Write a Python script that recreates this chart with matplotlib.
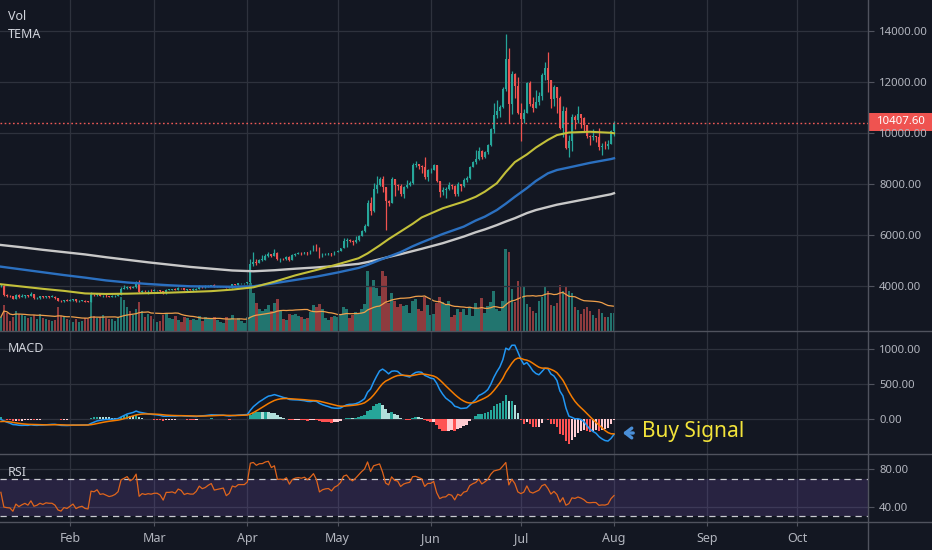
import numpy as np
import pandas as pd
import matplotlib
matplotlib.use("Agg")
import matplotlib.pyplot as plt
import matplotlib.dates as mdates
from matplotlib.lines import Line2D
from matplotlib.patches import Rectangle
from matplotlib.ticker import FuncFormatter

plt.rcParams['font.family'] = ['Noto Sans', 'DejaVu Sans']

# BTC/USD daily, 2019-01-09 .. 2019-08-01 (open = previous close)
warmup_close = [4040, 3770, 3820, 3600, 3880, 3730, 3860, 3700, 3820, 3890, 3780, 3810, 3790, 4060, 4000, 4010]

close_jan = [4030, 3650, 3630, 3620, 3510, 3660, 3580, 3620, 3650, 3600, 3690, 3540, 3560, 3600, 3570, 3600, 3590, 3590, 3550, 3440, 3410, 3460, 3440]
high_jan = [4100, 4060, 3690, 3650, 3630, 3710, 3680, 3680, 3660, 3660, 3760, 3710, 3590, 3630, 3620, 3610, 3610, 3670, 3600, 3550, 3450, 3480, 3490]
low_jan = [3990, 3600, 3570, 3580, 3490, 3500, 3560, 3570, 3560, 3580, 3600, 3520, 3520, 3500, 3550, 3550, 3550, 3570, 3510, 3410, 3390, 3400, 3430]

close_feb = [3470, 3500, 3410, 3430, 3440, 3400, 3390, 3660, 3650, 3690, 3620, 3630, 3610, 3590, 3600, 3620, 3660, 3900, 3940, 3990, 3940, 3990, 4140, 3760, 3830, 3810, 3830, 3820]
high_feb = [3490, 3510, 3510, 3450, 3460, 3450, 3410, 3780, 3680, 3700, 3690, 3660, 3680, 3630, 3650, 3650, 3700, 3960, 4070, 4010, 4000, 4010, 4200, 4230, 3870, 3840, 3850, 3910]
low_feb = [3420, 3440, 3400, 3400, 3410, 3380, 3370, 3380, 3630, 3610, 3600, 3580, 3590, 3570, 3580, 3590, 3600, 3650, 3880, 3910, 3900, 3920, 3950, 3730, 3750, 3780, 3700, 3790]

close_mar = [3840, 3840, 3810, 3720, 3870, 3870, 3880, 3860, 3940, 3920, 3860, 3880, 3870, 3870, 3910, 4000, 3970, 3990, 4030, 4060, 3990, 4000, 4010, 4020, 3940, 3970, 4080, 4070, 4110, 4110, 4110]
high_mar = [3880, 3860, 3850, 3820, 3890, 3910, 3910, 3950, 3960, 3950, 3940, 3900, 3890, 3920, 3930, 4050, 4010, 4040, 4040, 4070, 4080, 4020, 4030, 4030, 4030, 3990, 4100, 4090, 4130, 4130, 4120]
low_mar = [3820, 3810, 3790, 3700, 3710, 3840, 3860, 3840, 3850, 3890, 3840, 3820, 3850, 3830, 3870, 3910, 3950, 3950, 3970, 4010, 3970, 3980, 3990, 3990, 3920, 3930, 3950, 4040, 4050, 4080, 4090]

close_apr = [4150, 4880, 4950, 4910, 5040, 5050, 5200, 5270, 5180, 5310, 5070, 5080, 5070, 5150, 5030, 5220, 5280, 5300, 5290, 5330, 5290, 5390, 5540, 5440, 5180, 5250, 5280, 5290, 5240, 5350]
high_apr = [4170, 5090, 5350, 5060, 5070, 5240, 5280, 5340, 5270, 5470, 5360, 5110, 5120, 5170, 5190, 5250, 5310, 5340, 5360, 5350, 5340, 5420, 5620, 5640, 5540, 5300, 5300, 5310, 5300, 5380]
low_apr = [4100, 4140, 4810, 4830, 4900, 4990, 5050, 5150, 5150, 5170, 5040, 4960, 5050, 5040, 5000, 5020, 5200, 5260, 5230, 5270, 5220, 5260, 5380, 5400, 5110, 5150, 5230, 5240, 5200, 5220]

close_may = [5400, 5500, 5770, 5830, 5760, 5720, 5830, 5990, 6180, 6370, 7250, 6970, 7810, 7990, 8200, 7880, 7360, 7260, 8190, 7990, 7950, 7630, 7880, 7990, 8060, 8740, 8780, 8720, 8660, 8270, 8550]
high_may = [5430, 5520, 5880, 5900, 5840, 5800, 5980, 6000, 6200, 6430, 7400, 7490, 8050, 8330, 8270, 8310, 7890, 7380, 8270, 8190, 8020, 8010, 7950, 8150, 8130, 8830, 8900, 8780, 8750, 9060, 8590]
low_may = [5350, 5390, 5490, 5560, 5720, 5620, 5710, 5760, 5980, 6130, 6360, 6790, 6920, 7640, 7920, 7680, 6200, 7160, 7260, 7550, 7770, 7530, 7480, 7840, 7950, 8030, 8660, 8600, 8450, 8210, 8120]

close_jun = [8560, 8740, 8110, 7680, 7790, 7810, 7990, 7930, 7630, 8010, 7920, 8170, 8230, 8690, 8860, 8980, 9320, 9080, 9270, 9530, 10180, 10720, 10860, 11020, 11750, 12930, 11160, 12340, 11870, 10810]
high_jun = [8620, 8800, 8760, 8110, 7900, 7880, 8100, 8030, 7960, 8100, 8020, 8240, 8310, 8700, 8900, 9350, 9480, 9330, 9300, 9580, 10190, 11200, 11300, 11120, 11800, 13880, 13360, 12460, 12380, 12200]
low_jun = [8460, 8550, 8080, 7500, 7580, 7460, 7760, 7830, 7530, 7540, 7720, 7880, 8100, 8190, 8670, 8800, 8960, 8990, 9050, 9200, 9520, 10000, 10590, 10620, 11000, 11650, 10400, 10750, 11400, 10750]

close_jul = [10570, 10810, 11970, 11150, 10980, 11230, 11470, 12300, 12570, 12100, 11350, 11800, 11380, 10190, 10860, 9430, 9680, 10630, 10530, 10760, 10590, 10330, 9900, 9840, 9880, 9870, 9480, 9520, 9500, 9590, 10090]
high_jul = [11200, 10940, 12000, 12050, 11420, 11700, 11600, 12350, 12800, 13180, 12100, 11900, 11820, 11450, 11080, 11030, 9950, 10750, 10700, 11080, 10650, 10620, 10320, 9920, 10180, 9900, 10190, 9620, 9700, 9730, 10130]
low_jul = [9700, 10400, 10800, 11070, 10850, 10980, 11120, 11320, 12100, 11600, 11000, 11060, 10800, 10180, 9870, 9380, 9070, 9300, 10150, 10400, 10190, 10080, 9810, 9550, 9750, 9660, 9340, 9160, 9400, 9380, 9570]

close_aug = [10407.6]
high_aug = [10500]
low_aug = [9890]

# volume (thousand BTC, rough)
vol_jan = [14, 26, 18, 10, 14, 20, 17, 16, 15, 13, 14, 16, 12, 17, 13, 12, 11, 10, 11, 24, 15, 14, 12]
vol_feb = [11, 9, 12, 9, 10, 13, 12, 37, 15, 13, 14, 16, 13, 12, 12, 10, 14, 34, 31, 24, 20, 16, 22, 29, 20, 14, 17, 15]
vol_mar = [12, 9, 10, 16, 18, 13, 12, 15, 11, 9, 14, 13, 11, 12, 11, 15, 10, 14, 13, 12, 14, 11, 9, 8, 14, 12, 16, 11, 13, 10, 8]
vol_apr = [14, 48, 38, 28, 22, 20, 22, 26, 20, 28, 32, 20, 12, 11, 17, 16, 17, 15, 14, 12, 13, 19, 26, 24, 27, 22, 13, 11, 14, 15]
vol_may = [14, 16, 24, 22, 13, 16, 19, 18, 22, 27, 60, 45, 51, 43, 35, 60, 55, 28, 38, 30, 24, 27, 25, 26, 18, 30, 32, 22, 20, 34, 26]
vol_jun = [16, 17, 28, 34, 29, 26, 30, 14, 16, 22, 19, 22, 16, 24, 15, 28, 22, 33, 18, 25, 29, 40, 22, 20, 30, 82, 79, 42, 29, 50]
vol_jul = [45, 44, 27, 24, 20, 18, 30, 34, 44, 40, 26, 25, 28, 46, 40, 44, 40, 38, 24, 21, 17, 22, 24, 20, 16, 13, 22, 18, 14, 14, 18]
vol_aug = [18]

# moving averages (yellow / blue / white)
ma_dates = ["2019-01-09", "2019-01-16", "2019-01-23", "2019-01-30", "2019-02-06", "2019-02-13", "2019-02-20",
            "2019-02-27", "2019-03-06", "2019-03-13", "2019-03-20", "2019-03-27", "2019-04-03", "2019-04-10",
            "2019-04-17", "2019-04-24", "2019-05-01", "2019-05-08", "2019-05-11", "2019-05-15", "2019-05-18",
            "2019-05-22", "2019-05-26", "2019-05-29", "2019-06-05", "2019-06-12", "2019-06-16", "2019-06-19",
            "2019-06-23", "2019-06-26", "2019-06-29", "2019-07-03", "2019-07-06", "2019-07-10", "2019-07-13",
            "2019-07-17", "2019-07-24", "2019-07-31", "2019-08-01"]
ma_yellow = [4080, 3990, 3900, 3820, 3720, 3700, 3710, 3730, 3750, 3780, 3810, 3870, 3960, 4180, 4430, 4640,
             4860, 5100, 5290, 5600, 5850, 6150, 6450, 6700, 7060, 7320, 7510, 7710, 8040, 8480, 8870,
             9170, 9440, 9740, 9930, 10030, 10060, 10020, 10000]
ma_blue = [4770, 4660, 4550, 4440, 4340, 4230, 4150, 4090, 4040, 4000, 3990, 3980, 4000, 4120, 4250, 4380,
           4540, 4720, 4840, 5030, 5160, 5340, 5570, 5720, 6050, 6340, 6580, 6730, 6990, 7240, 7510,
           7850, 8130, 8430, 8560, 8660, 8840, 8990, 9020]
ma_white = [5620, 5530, 5430, 5340, 5250, 5140, 5040, 4940, 4850, 4760, 4690, 4620, 4590, 4630, 4690, 4740,
            4800, 4880, 4950, 5060, 5150, 5260, 5380, 5470, 5690, 5950, 6120, 6230, 6400, 6540, 6670,
            6870, 6990, 7110, 7200, 7290, 7450, 7610, 7650]

BG = "#131722"
GRID = "#2e323d"
SEP = "#50535e"
TXT = "#b2b5be"
UP = "#26a69a"
DOWN = "#ef5350"

close = np.array(close_jan + close_feb + close_mar + close_apr + close_may + close_jun + close_jul + close_aug, float)
high = np.array(high_jan + high_feb + high_mar + high_apr + high_may + high_jun + high_jul + high_aug, float)
low = np.array(low_jan + low_feb + low_mar + low_apr + low_may + low_jun + low_jul + low_aug, float)
vol = np.array(vol_jan + vol_feb + vol_mar + vol_apr + vol_may + vol_jun + vol_jul + vol_aug, float)
opn = np.concatenate([[warmup_close[-1]], close[:-1]])
dates = pd.date_range("2019-01-09", periods=len(close), freq="D")
x = mdates.date2num(dates)

# indicators
allc = pd.Series(warmup_close + list(close))
macd = allc.ewm(span=12, adjust=False).mean() - allc.ewm(span=26, adjust=False).mean()
signal = macd.ewm(span=9, adjust=False).mean()
hist = macd - signal
delta = allc.diff().iloc[1:]
gain = delta.clip(lower=0).ewm(alpha=1 / 14).mean()
loss = (-delta.clip(upper=0)).ewm(alpha=1 / 14).mean()
rsi = 100 - 100 / (1 + gain / loss)
n = len(close)
macd = macd.values[-n:]
signal = signal.values[-n:]
hist = hist.values[-n:]
prev = np.concatenate([[0], hist[:-1]])
rsi = rsi.values[-n:]

fig = plt.figure(figsize=(9.32, 5.5), dpi=100, facecolor=BG)
W = 868 / 932
ax = fig.add_axes([0, 219 / 550, W, 331 / 550])
axm = fig.add_axes([0, 96 / 550, W, 123 / 550], sharex=ax)
axr = fig.add_axes([0, 28 / 550, W, 68 / 550], sharex=ax)
axv = ax.twinx()
ax.set_zorder(2)
axv.set_zorder(1)
ax.patch.set_visible(False)

for a in (ax, axm, axr):
    a.set_facecolor(BG)
    for s in a.spines.values():
        s.set_visible(False)
    a.yaxis.tick_right()
    a.tick_params(axis='y', colors=TXT, labelsize=8.2, length=4, pad=4, color=SEP)
    a.tick_params(axis='x', length=0, labelbottom=False)
    a.grid(True, color=GRID, lw=0.9)
    a.set_axisbelow(True)
    a.yaxis.set_major_formatter(FuncFormatter(lambda v, p: f"{v:.2f}"))
for s in axv.spines.values():
    s.set_visible(False)
axv.set_yticks([])

x0 = mdates.date2num(pd.Timestamp("2019-01-09"))
ax.set_xlim(x0 - 0.29, x0 + 288.5)
ax.xaxis.set_major_locator(mdates.MonthLocator())
ax.xaxis.set_major_formatter(mdates.DateFormatter("%b"))

# price panel
cols = np.where(close >= opn, UP, DOWN)
ax.vlines(x, low, high, colors=cols, lw=0.9, zorder=3)
ax.bar(x, np.maximum(np.abs(close - opn), 15), bottom=np.minimum(opn, close), width=0.62,
       color=cols, zorder=3)
mx = mdates.date2num(pd.to_datetime(ma_dates))
ax.plot(mx, ma_white, color="#c8c8c8", lw=1.7, zorder=4)
ax.plot(mx, ma_blue, color="#2b70c0", lw=1.7, zorder=4)
ax.plot(mx, ma_yellow, color="#c3c03a", lw=1.5, zorder=4)
ax.axhline(close[-1], color="#f05a57", lw=1.0, ls=(0, (1.2, 1.8)), zorder=5)
ax.set_ylim(2247, 15227)
ax.set_yticks(range(4000, 14001, 2000))

vcols = np.where(close >= opn, "#22756f", "#8e3b3e")
axv.bar(x, vol, width=0.88, color=vcols)
axv.plot(x, pd.Series(vol).rolling(20, min_periods=1).mean(), color="#f0a04b", lw=0.9)
axv.set_ylim(0, 4.05 * vol.max())

# MACD panel
hcols = np.where(hist >= 0, np.where(hist > prev, "#26a69a", "#b2dfdb"),
                 np.where(hist < prev, "#ff5252", "#ffcdd2"))
axm.bar(x, hist, width=0.85, color=hcols, zorder=2)
axm.plot(x, macd, color="#2196f3", lw=1.1, zorder=3)
axm.plot(x, signal, color="#f57c00", lw=1.1, zorder=3)
axm.set_ylim(-496, 1257)
axm.set_yticks([0, 500, 1000])

# RSI panel
axr.axhspan(30, 70, color="#7e57c2", alpha=0.2, lw=0)
for lvl in (30, 70):
    axr.axhline(lvl, color="#c8cad0", lw=0.9, ls=(0, (5, 4)))
axr.plot(x, rsi, color="#e0651c", lw=0.9)
axr.set_ylim(23.6, 96.4)
axr.set_yticks([40, 80])
axr.tick_params(axis='x', labelbottom=True, colors=TXT, labelsize=9, length=3, pad=4, color=SEP)

# separators
for yy in (331, 454, 522):
    fig.add_artist(Line2D([0, 1], [1 - yy / 550] * 2, transform=fig.transFigure, color=SEP, lw=1))
fig.add_artist(Line2D([W, W], [0, 1], transform=fig.transFigure, color=SEP, lw=1))

# last price label
yl = 1 - 131 / 550
fig.add_artist(Rectangle((W, yl), 1 - W, 18 / 550, transform=fig.transFigure, color=DOWN, lw=0))
fig.text(877 / 932, 1 - 122 / 550, f"{close[-1]:.2f}", color="white", fontsize=8.2, va="center")

for label, yy in (("Vol", 16), ("TEMA", 34), ("MACD", 349), ("RSI", 472)):
    fig.text(8 / 932, 1 - yy / 550, label, color="#d1d4dc", fontsize=9, va="center")

fig.text(642 / 932, 1 - 432 / 550, "Buy Signal", color="#f2e33a", fontsize=15, va="center")
axm.annotate("", xy=(620, 550 - 433), xytext=(636, 550 - 433), xycoords="figure pixels",
             arrowprops=dict(arrowstyle="->,head_length=0.45,head_width=0.35", color="#4a8fd8", lw=2.4))

fig.savefig("out.png", dpi=100, facecolor=BG)
